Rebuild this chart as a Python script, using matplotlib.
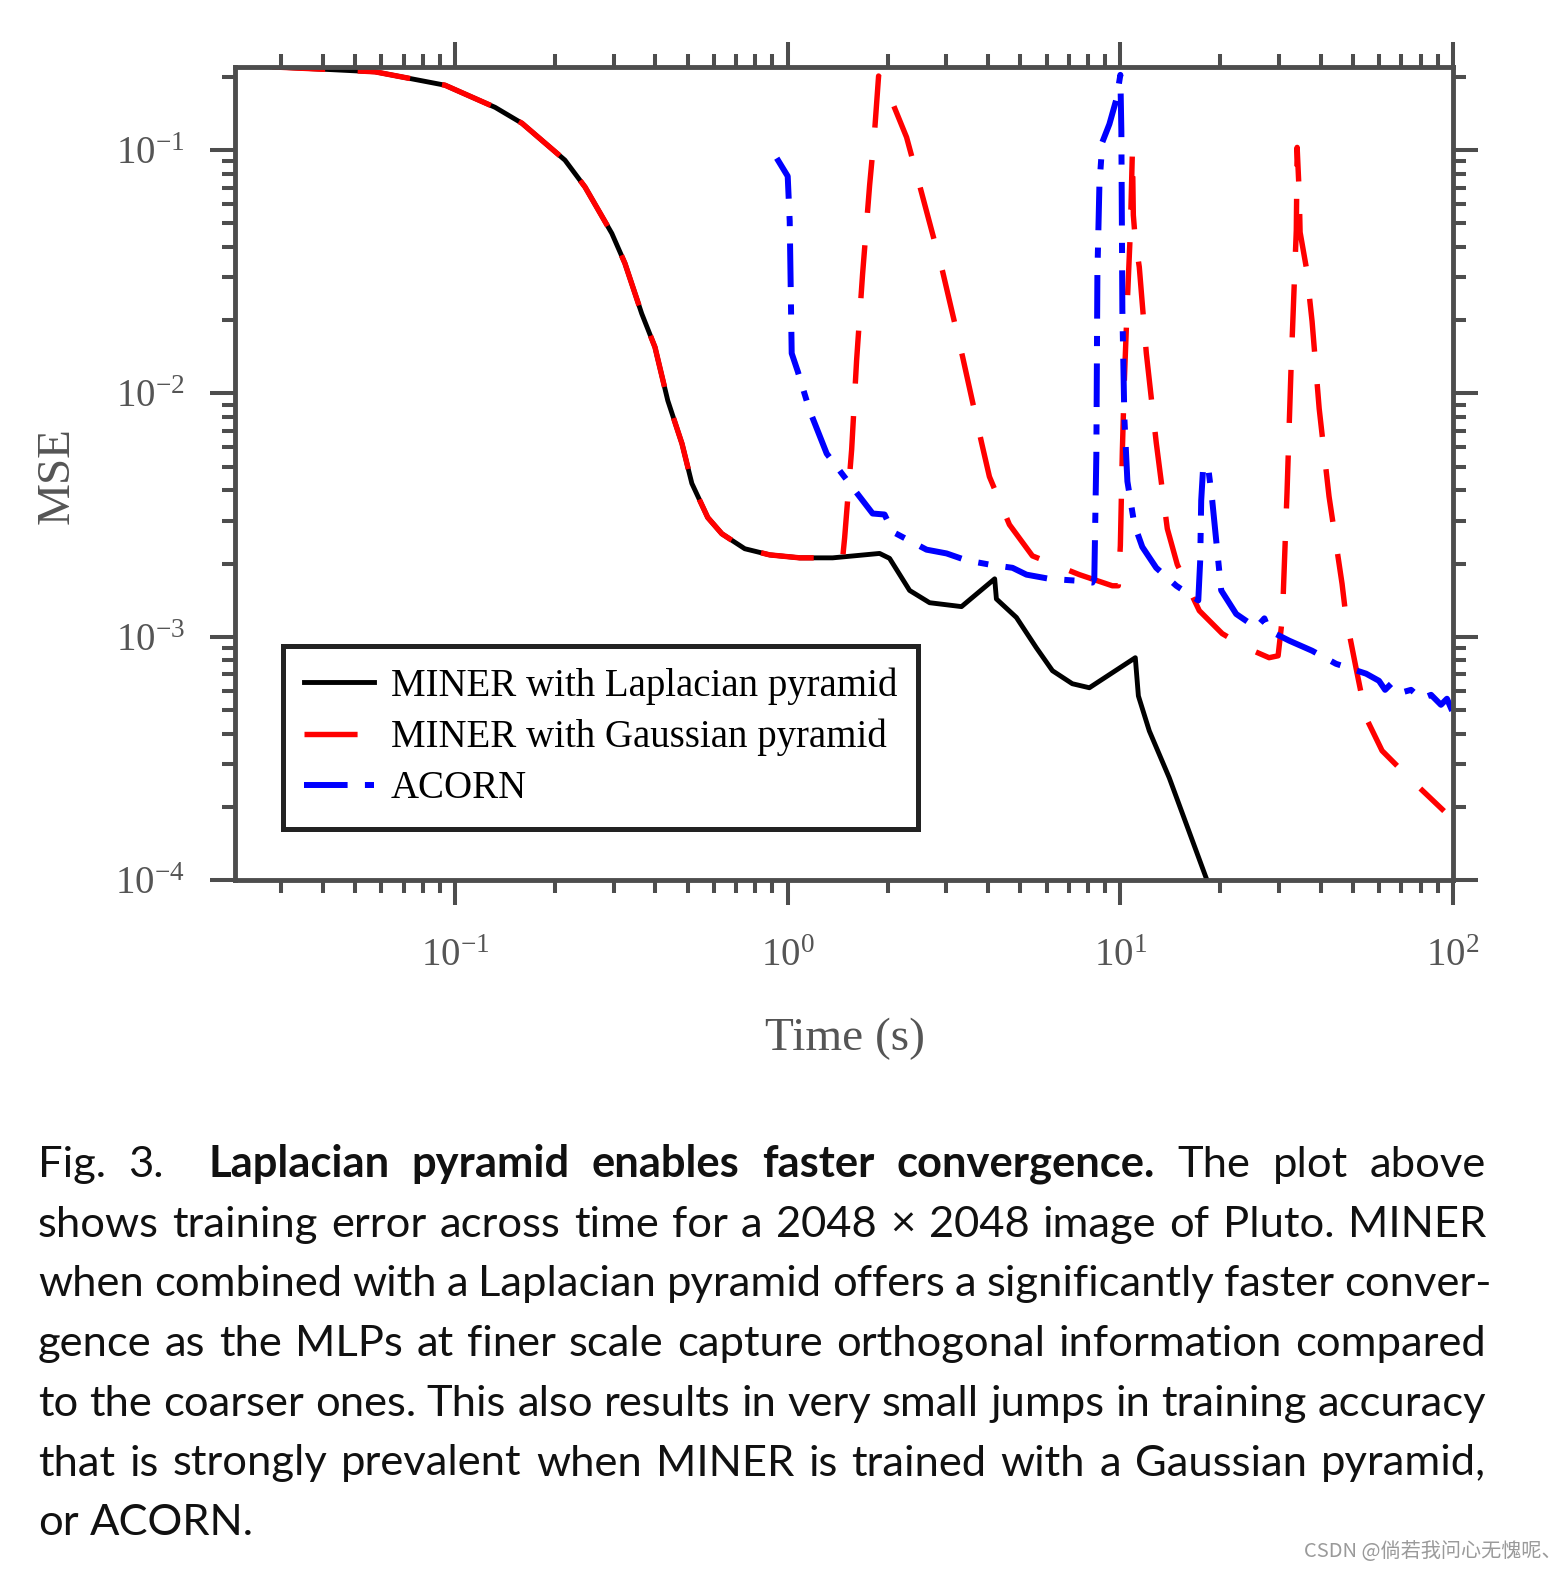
import re
import numpy as np
import matplotlib
matplotlib.use("Agg")
import matplotlib.pyplot as plt
from matplotlib.ticker import LogLocator, FuncFormatter, NullFormatter

# values (time in s, MSE)
shared_t = [0.0282, 0.0407, 0.0575, 0.0933, 0.132, 0.159, 0.214, 0.246, 0.296, 0.324,
            0.364, 0.399, 0.436, 0.481, 0.515, 0.575, 0.634, 0.743, 0.883, 1.087, 1.365]
shared_mse = [0.220, 0.215, 0.210, 0.185, 0.150, 0.129, 0.0910, 0.0705, 0.0455, 0.0343,
              0.0213, 0.0155, 0.00935, 0.00622, 0.00427, 0.00309, 0.00265, 0.00230, 0.00217, 0.00211, 0.00211]

lap_t = [1.889, 2.024, 2.325, 2.670, 3.33, 4.19, 4.24, 4.87, 5.59, 6.25, 7.17, 8.07,
         11.09, 11.33, 12.22, 14.03, 18.25, 18.8]
lap_mse = [0.00220, 0.00210, 0.00155, 0.00138, 0.00133, 0.00173, 0.00143, 0.00120, 0.000901,
           0.000725, 0.000641, 0.000617, 0.000820, 0.000571, 0.000410, 0.000263, 0.0000991, 0.000088]

gau_t = [1.463, 1.483, 1.557, 1.611, 1.679, 1.763, 1.825, 1.876,
         2.068, 2.277, 2.491, 2.921, 3.354, 3.826, 4.04, 4.64, 5.44, 7.53, 9.46, 9.86,
         10.0, 10.14, 10.28, 10.50, 10.72, 10.87, 10.94, 11.09, 11.40, 11.97,
         12.82, 13.84, 14.83, 17.27, 20.24, 23.9, 28.0, 29.8, 30.7, 31.7,
         32.6, 33.8, 34.0, 34.5, 34.7, 36.2, 37.7, 39.6, 42.4, 46.4,
         47.7, 51.1, 54.8, 61.2, 73.8, 94.0]
gau_mse = [0.00211, 0.00255, 0.00589, 0.01368, 0.0309, 0.0718, 0.1197, 0.2018,
           0.156, 0.1130, 0.0718, 0.0318, 0.01419, 0.00628, 0.00455, 0.00289, 0.00215, 0.00180, 0.00162, 0.00162,
           0.00237, 0.00582, 0.0113, 0.0241, 0.0469, 0.100, 0.0541, 0.0427, 0.0331, 0.01462,
           0.00628, 0.00278, 0.00198, 0.00128, 0.00103, 0.000901, 0.000820, 0.000835, 0.00120, 0.00392,
           0.0128, 0.0469, 0.1027, 0.0659, 0.0460, 0.0331, 0.0198, 0.00867, 0.00377, 0.00165,
           0.00120, 0.000745, 0.000464, 0.000340, 0.000263, 0.000192]

acorn_t = [0.927, 1.0, 1.014, 1.028, 1.072, 1.164, 1.310, 1.463, 1.800, 1.955,
           2.068, 2.614, 3.003, 3.45, 4.04, 4.74, 5.22, 6.12, 7.38, 8.24,
           8.35, 8.47, 8.53, 8.65, 8.83, 9.27, 9.73, 10.0, 10.07, 10.14,
           10.28, 10.50, 11.02, 11.64, 12.82, 14.73, 17.15, 17.38, 17.50, 17.75,
           18.37, 18.89, 19.42, 20.1, 22.3, 25.6, 27.1, 28.0, 32.2, 37.7,
           44.5, 54.8, 59.9, 62.5, 65.2, 69.8, 74.8, 80.2, 85.9, 92.0,
           95.9, 99.4]
acorn_mse = [0.0927, 0.0782, 0.0510, 0.01462, 0.01233, 0.00851, 0.00566, 0.00464, 0.00321, 0.00318,
             0.00270, 0.00228, 0.00220, 0.00206, 0.00198, 0.00192, 0.00180, 0.00173, 0.00170, 0.00167,
             0.00173, 0.00566, 0.0309, 0.0718, 0.108, 0.128, 0.162, 0.204, 0.1197, 0.0220,
             0.00796, 0.00435, 0.00289, 0.00234, 0.00192, 0.00162, 0.00141, 0.00206, 0.00363, 0.00506,
             0.00496, 0.00363, 0.00248, 0.00155, 0.00124, 0.00109, 0.00119, 0.00106, 0.000963, 0.000876,
             0.000774, 0.000705, 0.000659, 0.000605, 0.000641, 0.000589, 0.000605, 0.000556, 0.000577, 0.000525,
             0.000556, 0.000496]

labels = ["MINER with Laplacian pyramid", "MINER with Gaussian pyramid", "ACORN"]

caption_lines = [
    "Fig. 3.  **Laplacian pyramid enables faster convergence.** The plot above",
    "shows training error across time for a 2048 \u00d7 2048 image of Pluto. MINER",
    "when combined with a Laplacian pyramid offers a significantly faster conver-",
    "gence as the MLPs at finer scale capture orthogonal information compared",
    "to the coarser ones. This also results in very small jumps in training accuracy",
    "that is strongly prevalent when MINER is trained with a Gaussian pyramid,",
    "or ACORN.",
]
watermark = "CSDN @\u5018\u82e5\u6211\u95ee\u5fc3\u65e0\u6127\u5462\u3001"

plt.rcParams['font.family'] = ['Liberation Serif', 'DejaVu Serif']
plt.rcParams['mathtext.fontset'] = 'custom'
plt.rcParams['mathtext.rm'] = 'Liberation Serif'
plt.rcParams['mathtext.it'] = 'Liberation Serif:italic'
plt.rcParams['mathtext.bf'] = 'Liberation Serif:bold'

W, H = 1568, 1574
fig = plt.figure(figsize=(W / 100, H / 100), dpi=100)
ax = fig.add_axes([235 / W, 1 - 880 / H, 1218 / W, 813 / H])

grey = '#4d4d4d'
ax.plot(shared_t + lap_t, shared_mse + lap_mse, color='black', lw=3.5,
        label=labels[0], solid_joinstyle='round')
ax.plot(shared_t + gau_t, shared_mse + gau_mse, color='#ff0000', lw=3.9,
        dashes=(9.8, 6.0), dash_capstyle='butt', label=labels[1])
ax.plot(acorn_t, acorn_mse, color='#0000ff', lw=4.3,
        dashes=(7.3, 2.9, 1.7, 2.9), dash_capstyle='butt', label=labels[2])

ax.set_xscale('log')
ax.set_yscale('log')
ax.set_xlim(0.0218, 100)
ax.set_ylim(1e-4, 0.2198)

fmt = FuncFormatter(lambda v, p: r'$\mathrm{10^{%d}}$' % round(np.log10(v)))
for axis in (ax.xaxis, ax.yaxis):
    axis.set_major_locator(LogLocator(base=10, numticks=12))
    axis.set_minor_locator(LogLocator(base=10, subs=np.arange(2, 10), numticks=12))
    axis.set_major_formatter(fmt)
    axis.set_minor_formatter(NullFormatter())

ax.tick_params(which='both', direction='out', top=True, right=True, color=grey,
               width=2.9, labelcolor='#555555', labelsize=28)
ax.tick_params(which='major', length=18)
ax.tick_params(which='minor', length=9.5)
ax.tick_params(axis='x', which='major', pad=24)
ax.tick_params(axis='y', which='major', pad=18)
for s in ax.spines.values():
    s.set_color(grey)
    s.set_linewidth(3.5)

ax.set_xlabel("Time (s)", fontsize=34, color='#555555')
ax.set_ylabel("MSE", fontsize=34, color='#555555')
ax.xaxis.set_label_coords(0.5008, -0.195)
ax.xaxis.label.set_va('center')
ax.yaxis.set_label_coords(-0.146, 0.498)
ax.yaxis.label.set_va('center')

leg = ax.legend(loc='lower left', bbox_to_anchor=(0.0394, 0.063), borderaxespad=0,
                fontsize=28, fancybox=False, framealpha=1, handlelength=1.8,
                handletextpad=0.42, borderpad=0.55, labelspacing=0.36)
leg.get_frame().set_edgecolor('#222222')
leg.get_frame().set_linewidth(3.6)

# caption, justified word by word
cap_size = 31.3
fig.canvas.draw()
renderer = fig.canvas.get_renderer()
x_left, x_right = 38, 1486
for i, line in enumerate(caption_lines):
    base = 1177 + i * 59.7
    words, gaps = [], []
    pending = 0
    for k, part in enumerate(line.split('**')):
        weight = 'bold' if k % 2 else 'normal'
        for tok in re.findall(r'\S+|\s+', part):
            if tok.isspace():
                pending += len(tok)
            else:
                t = fig.text(0, 1 - base / H, tok, fontsize=cap_size, family='Lato',
                             weight=weight, va='baseline', ha='left', color='#111111')
                words.append(t)
                gaps.append(pending if words[:-1] else 0)
                pending = 0
    widths = [t.get_window_extent(renderer).width for t in words]
    units = sum(gaps)
    right = x_right + (6 if line.endswith('-') else 0)
    if i < len(caption_lines) - 1 and units > 0:
        unit = (right - x_left - sum(widths)) / units
    else:
        unit = cap_size * 100 / 72 * 0.25
    x = x_left
    for t, w, g in zip(words, widths, gaps):
        x += g * unit
        t.set_x(x / W)
        x += w

fig.text(1562 / W, 1 - 1557 / H, watermark, fontsize=14.5, color='#9a9a9a',
         family=['Noto Sans CJK SC', 'DejaVu Sans'], ha='right', va='baseline')

fig.savefig('out.png', dpi=100)
